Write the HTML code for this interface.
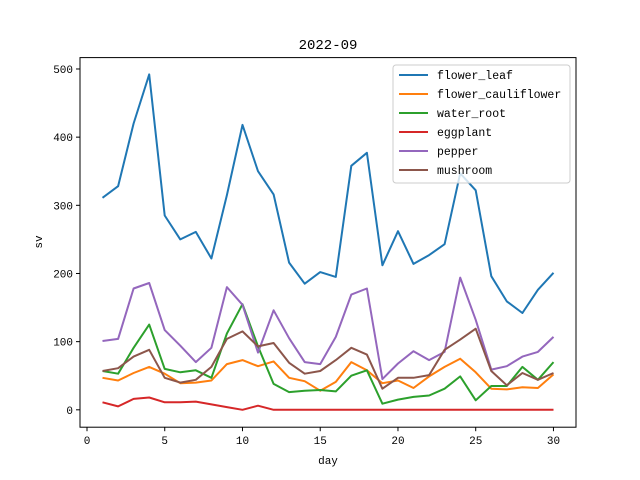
<!DOCTYPE html>
<html><head><meta charset="utf-8"><style>
body{margin:0;background:#fff}
svg{display:block;font-family:"Liberation Mono","DejaVu Sans Mono",monospace}
</style></head><body>
<svg id="chart" width="640" height="480"></svg>
<script>
const days=[1,2,3,4,5,6,7,8,9,10,11,12,13,14,15,16,17,18,19,20,21,22,23,24,25,26,27,28,29,30];
const flowerLeaf=[311,328,420,492,285,250,261,222,315,418,350,316,216,185,202,195,358,377,212,262,214,227,243,347,322,196,159,142,176,201];
const flowerCauliflower=[47,43,54,63,53,39,40,43,67,73,64,71,47,42,28,41,70,58,39,43,32,49,63,75,55,31,30,33,32,52];
const waterRoot=[57,53,91,125,60,55,58,47,112,155,93,38,26,28,29,27,50,58,9,15,19,21,31,49,14,35,35,63,44,70];
const eggplant=[11,5,16,18,11,11,12,8,4,0,6,0,0,0,0,0,0,0,0,0,0,0,0,0,0,0,0,0,0,0];
const pepper=[101,104,178,186,117,94,70,91,180,154,84,146,105,70,67,107,169,178,45,68,86,73,85,194,132,59,64,78,85,107];
const mushroom=[57,61,78,88,47,40,44,63,104,115,93,98,69,53,57,73,91,81,31,47,47,51,88,103,119,57,36,54,44,54];
const seriesNames=["flower_leaf","flower_cauliflower","water_root","eggplant","pepper","mushroom"];
const seriesData=[flowerLeaf,flowerCauliflower,waterRoot,eggplant,pepper,mushroom];
const colors=["#1f77b4","#ff7f0e","#2ca02c","#d62728","#9467bd","#8c564b"];
const xTicks=[0,5,10,15,20,25,30];
const yTicks=[0,100,200,300,400,500];

const L=80,R=576,T=57.6,B=427.2;
const xMin=-0.45,xMax=31.45,yMin=-25.5,yMax=516.7;
const sx=v=>L+(v-xMin)/(xMax-xMin)*(R-L);
const sy=v=>B-(v-yMin)/(yMax-yMin)*(B-T);
const svg=document.getElementById('chart');
const NS="http://www.w3.org/2000/svg";
function mk(tag,attrs,parent){const e=document.createElementNS(NS,tag);for(const k in attrs)e.setAttribute(k,attrs[k]);(parent||svg).appendChild(e);return e;}

seriesData.forEach((arr,i)=>{
  const pts=arr.map((v,j)=>sx(days[j]).toFixed(1)+","+sy(v).toFixed(1)).join(" ");
  const pl=mk('polyline',{points:pts,fill:"none",stroke:colors[i],"stroke-width":2,"stroke-linejoin":"round"});
  
  
});

const frame=mk('rect',{x:L,y:T,width:R-L,height:B-T,fill:"none",stroke:"#000","stroke-width":1});



xTicks.forEach(t=>{
  const x=sx(t);
  mk('line',{x1:x,y1:B,x2:x,y2:B+4,stroke:"#000"});
  const tx=mk('text',{x:x,y:B+17,"text-anchor":"middle","font-size":11});
  tx.textContent=t;
  
  
});
yTicks.forEach(t=>{
  const y=sy(t);
  mk('line',{x1:L-4,y1:y,x2:L,y2:y,stroke:"#000"});
  const tx=mk('text',{x:L-7,y:y+4,"text-anchor":"end","font-size":11});
  tx.textContent=t;
  
  
});

const title=mk('text',{x:(L+R)/2,y:49,"text-anchor":"middle","font-size":14});
title.textContent="2022-09";


const xl=mk('text',{x:(L+R)/2,y:464,"text-anchor":"middle","font-size":11});
xl.textContent="day";


const yl=mk('text',{x:42,y:242,"text-anchor":"middle","font-size":11,transform:"rotate(-90 42 242)"});
yl.textContent="sv";



const lg=mk('g',{});


mk('rect',{x:393,y:65,width:177,height:118,rx:3,fill:"#fff","fill-opacity":0.8,stroke:"#ccc"},lg);
seriesNames.forEach((n,i)=>{
  const y=75+i*19;
  mk('line',{x1:399,y1:y,x2:428,y2:y,stroke:colors[i],"stroke-width":2},lg);
  const tx=mk('text',{x:437,y:y+4,"font-size":11.5},lg);
  tx.textContent=n;
  
  
});
</script>
</body></html>
